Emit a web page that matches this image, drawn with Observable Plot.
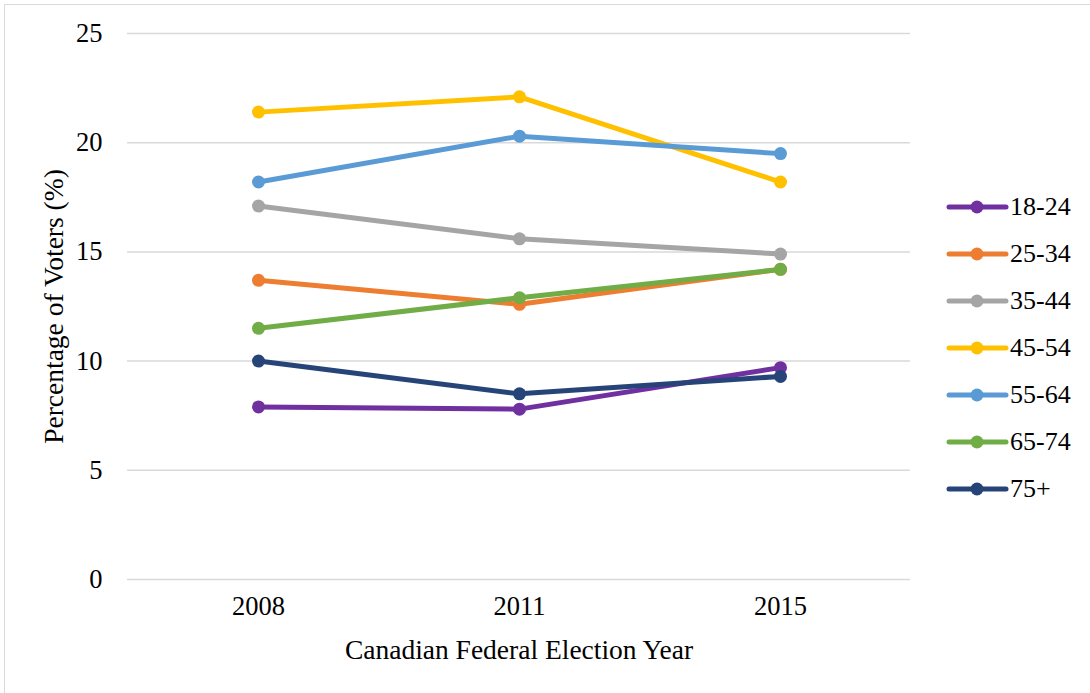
<!DOCTYPE html>
<html>
<head>
<meta charset="utf-8">
<script src="https://cdn.jsdelivr.net/npm/d3@7"></script>
<script src="https://cdn.jsdelivr.net/npm/@observablehq/plot@0.6"></script>
<style>
  html, body { margin: 0; padding: 0; background: #fff; overflow: hidden; }
  #wrap { position: relative; width: 1090px; height: 693px; overflow: hidden; }
  #border { position: absolute; left: 4px; top: 4px; width: 1200px; height: 800px; border: 1px solid #d9d9d9; box-sizing: border-box; pointer-events: none; }
  #chart { position: absolute; left: 0; top: 0; }
  #legend { position: absolute; left: 0; top: 0; font-family: "Liberation Serif", "Times New Roman", serif; font-size: 26px; color: #000; }
  .item { position: absolute; height: 30px; display: flex; align-items: center; white-space: nowrap; }
</style>
</head>
<body>
<div id="wrap">
  <div id="border"></div>
  <div id="chart"></div>
  <div id="legend"></div>
</div>
<script>
const years = ["2008", "2011", "2015"];
const groups = ["18-24", "25-34", "35-44", "45-54", "55-64", "65-74", "75+"];
const v18_24 = [7.9, 7.8, 9.7];
const v25_34 = [13.7, 12.6, 14.2];
const v35_44 = [17.1, 15.6, 14.9];
const v45_54 = [21.4, 22.1, 18.2];
const v55_64 = [18.2, 20.3, 19.5];
const v65_74 = [11.5, 12.9, 14.2];
const v75plus = [10.0, 8.5, 9.3];
const colors = ["#7030A0", "#ED7D31", "#A5A5A5", "#FFC000", "#5B9BD5", "#70AD47", "#264478"];
const yTicks = [0, 5, 10, 15, 20, 25];
const xTitle = "Canadian Federal Election Year";
const yTitle = "Percentage of Voters (%)";

const series = [v18_24, v25_34, v35_44, v45_54, v55_64, v65_74, v75plus];
const data = [];
series.forEach((vals, gi) => vals.forEach((v, yi) => data.push({group: groups[gi], year: years[yi], value: v})));

const chart = Plot.plot({
  width: 1090,
  height: 693,
  marginLeft: 127,
  marginRight: 180,
  marginTop: 33,
  marginBottom: 114,
  style: {fontFamily: "Liberation Serif, Times New Roman, serif", fontSize: "26.5px", color: "#000", background: "transparent"},
  x: {type: "point", domain: years, padding: 0.5},
  y: {domain: [0, 25]},
  color: {domain: groups, range: colors},
  marks: [
    Plot.ruleY(yTicks, {stroke: "#d9d9d9", strokeWidth: 1.5}),
    Plot.axisY({ticks: yTicks, tickSize: 0, tickPadding: 25, label: null}),
    Plot.axisX({tickSize: 0, tickPadding: 17, label: null}),
    Plot.line(data, {x: "year", y: "value", z: "group", stroke: "group", strokeWidth: 5, strokeLinecap: "round", strokeLinejoin: "round"}),
    Plot.dot(data, {x: "year", y: "value", fill: "group", r: 6.5}),
    Plot.text([yTitle], {frameAnchor: "left", dx: -73, rotate: -90, textAnchor: "middle", lineAnchor: "middle", fontSize: 27.5, fill: "#000"}),
    Plot.text([xTitle], {frameAnchor: "bottom", dy: 71, textAnchor: "middle", lineAnchor: "middle", fontSize: 27.5, fill: "#000"})
  ]
});
document.getElementById("chart").appendChild(chart);

const legend = document.getElementById("legend");
groups.forEach((g, i) => {
  const item = document.createElement("div");
  item.className = "item";
  item.style.left = "945px";
  item.style.top = (207 + i * 47 - 15) + "px";
  const svg = d3.create("svg").attr("width", 65).attr("height", 30);
  svg.append("line").attr("x1", 4).attr("x2", 61).attr("y1", 15).attr("y2", 15)
    .attr("stroke", colors[i]).attr("stroke-width", 5).attr("stroke-linecap", "round");
  svg.append("circle").attr("cx", 32).attr("cy", 15).attr("r", 6.5).attr("fill", colors[i]);
  item.appendChild(svg.node());
  const span = document.createElement("span");
  span.textContent = g;
  item.appendChild(span);
  legend.appendChild(item);
});
</script>
</body>
</html>
